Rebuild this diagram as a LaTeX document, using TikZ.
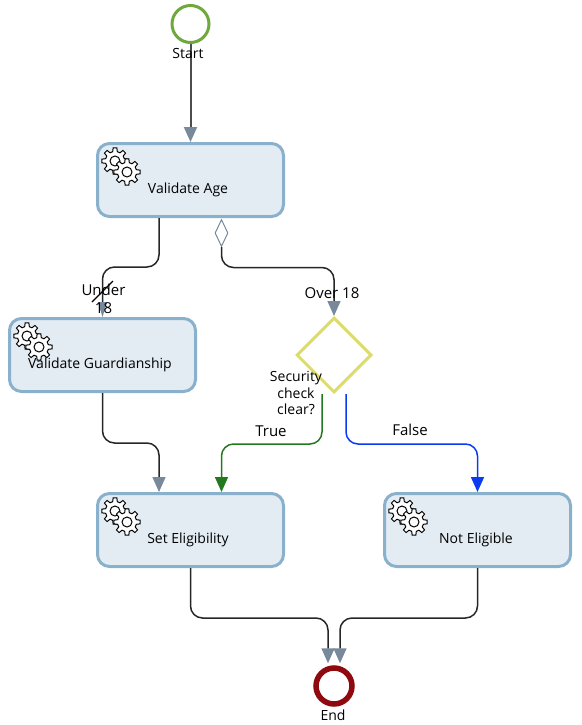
\documentclass[tikz,border=0pt]{standalone}
\usepackage{xcolor}
\usepackage{fontspec}
\setmainfont{Open Sans}
\usetikzlibrary{shapes.geometric, arrows.meta, positioning, calc}
\definecolor{bpm-blue}{HTML}{E3ECF3}
\definecolor{bpm-edge}{HTML}{8AB1CB}
\definecolor{bpm-green}{HTML}{6FA83C}
\definecolor{bpm-red}{HTML}{8E0A0F}
\definecolor{bpm-yellow}{HTML}{DCDC6A}
\definecolor{bpm-head}{HTML}{77899A}
\definecolor{bpm-true}{HTML}{237A1E}
\definecolor{bpm-false}{HTML}{0A3BF0}

\tikzset{
    gear/.pic={
        \draw [fill=white, line width=1pt] (-14:9.6) \foreach \a in {0,45,...,315} {
            -- (\a-14:9.6) -- (\a-8:13.2) -- (\a+8:13.2) -- (\a+14:9.6) -- (\a+31:9.6)
        } -- cycle;
        \draw [fill=white, line width=1pt] (0,0) circle (5);
    }
}

\begin{document}
\begin{tikzpicture}[
    x=1pt, y=-1pt,
    task/.style={draw=bpm-edge, fill=bpm-blue, line width=3pt, minimum width=186pt, minimum height=73pt, rounded corners=12pt},
    gateway/.style={diamond, draw=bpm-yellow, line width=3pt, minimum size=75pt, inner sep=0pt},
    startev/.style={circle, draw=bpm-green, line width=3pt, minimum size=37pt, inner sep=0pt},
    endev/.style={circle, draw=bpm-red, line width=5.5pt, minimum size=36pt, inner sep=0pt},
    defmark/.style={diamond, draw=bpm-head, fill=white, line width=1pt, minimum width=13pt, minimum height=27pt, inner sep=0pt},
    lbl/.style={inner sep=0pt, align=center, font=\fontsize{14}{18}\selectfont},
    edgelbl/.style={lbl, font=\fontsize{15}{18}\selectfont},
    flow/.style={-{Triangle[width=13pt, length=15pt, color=bpm-head]}, line width=1.5pt, color=black!85, rounded corners=12pt},
    thinflow/.style={-{Triangle[width=9pt, length=15pt, color=bpm-head]}, line width=1.5pt, color=black!85, rounded corners=12pt},
    yesflow/.style={-{Triangle[width=13pt, length=15pt, color=bpm-true]}, line width=1.5pt, color=bpm-true, rounded corners=12pt},
    noflow/.style={-{Triangle[width=13pt, length=15pt, color=bpm-false]}, line width=1.5pt, color=bpm-false, rounded corners=12pt}
]
    \useasboundingbox (0,0) rectangle (581,725);

    \node (start) [startev] at (190.5,24) {};
    \node (age) [task, below=98pt of start] {};
    \node (guard) [task, below=99pt of age, xshift=-88pt] {};
    \node (set) [task, below=274pt of age] {};
    \node (notelig) [task, right=98pt of set] {};
    \node (gate) [gateway] at (334,355) {};
    \node (finish) [endev] at (334,686) {};
    \node (dflt) [defmark, below=1pt of age, xshift=31pt] {};

    \pic at ($(age.north west)+(19,19)$) {gear};
    \pic at ($(age.north west)+(31,30)$) {gear};
    \pic at ($(guard.north west)+(19,19)$) {gear};
    \pic at ($(guard.north west)+(31,30)$) {gear};
    \pic at ($(set.north west)+(19,19)$) {gear};
    \pic at ($(set.north west)+(31,30)$) {gear};
    \pic at ($(notelig.north west)+(19,19)$) {gear};
    \pic at ($(notelig.north west)+(31,30)$) {gear};

    \coordinate (slashA) at (92,302);
    \coordinate (slashB) at (113,281);

    \draw [flow, line width=2pt, color=black!70] (start.south) -- (age.north);
    \draw [thinflow] ([xshift=-31.5pt]age.south) -- ++(0,49) -| (guard.north);
    \draw [flow] (dflt.south) -- ++(0,20.5) -| (gate.north);
    \draw [line width=1.2pt] (slashA) -- (slashB);
    \draw [flow] (guard.south) -- ++(0,50) -| ([xshift=-31.5pt]set.north);
    \draw [yesflow] ([xshift=-12pt]gate.south) -- ++(0,50) -| ([xshift=31pt]set.north);
    \draw [noflow] ([xshift=12pt]gate.south) -- ++(0,50) -| (notelig.north);
    \draw [flow, shorten >=2pt] (set.south) -- ++(0,50) -| ([xshift=-6pt]finish.north);
    \draw [flow, shorten >=2pt] (notelig.south) -- ++(0,50) -| ([xshift=6pt]finish.north);

    \node (startlbl) [lbl] at (188,53) {Start};
    \node (finishlbl) [lbl] at (333,715) {End};
    \node (agelbl) [lbl] at (188,190) {Validate Age};
    \node (guardlbl) [lbl] at (100,365) {Validate Guardianship};
    \node (setlbl) [lbl] at (188,540) {Set Eligibility};
    \node (noteliglbl) [lbl] at (476,540) {Not Eligible};
    \node (underlbl) [edgelbl] at (103.5,299) {Under\\18};
    \node (overlbl) [edgelbl] at (332,293) {Over 18};
    \node (gatelbl) [lbl, font=\fontsize{14}{16.5}\selectfont] at (296,393) {Security\\check\\clear?};
    \node (truelbl) [edgelbl] at (271,431) {True};
    \node (falselbl) [edgelbl] at (410,430) {False};
\end{tikzpicture}
\end{document}
